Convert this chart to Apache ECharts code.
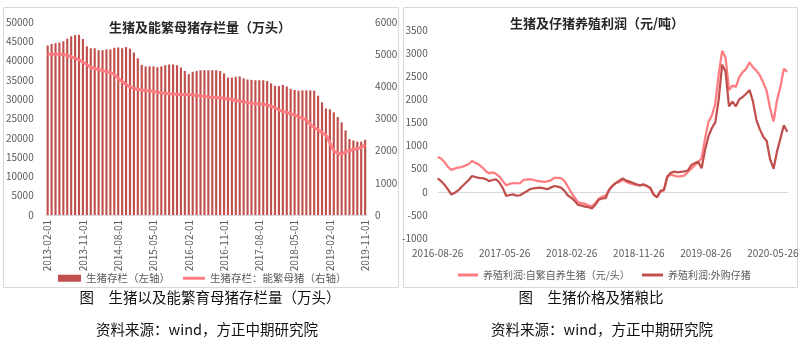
<!DOCTYPE html>
<html>
<head>
<meta charset="utf-8">
<script src="https://cdn.jsdelivr.net/npm/echarts/dist/echarts.min.js"></script>
<style>
html,body{margin:0;padding:0;background:#fff;}
#c{width:803px;height:348px;}
</style>
</head>
<body>
<div id="c"></div>
<script>
// ---------- Left chart data (monthly, 2013-02 .. 2019-11) ----------
const hogStartYear = 2013, hogStartMonth = 2, hogMonthCount = 82;
const hogMonths = [];
for (let y = hogStartYear, m = hogStartMonth; hogMonths.length < hogMonthCount;) {
  hogMonths.push(y + '-' + String(m).padStart(2, '0') + '-01');
  m++; if (m > 12) { m = 1; y++; }
}
// 生猪存栏（万头，左轴）
const hogInventory = [
  43900, 44300, 44500, 44700, 45000, 45700, 46300, 46600, 46700, 45600,
  43700, 43200, 43200, 42700, 42700, 42900, 42900, 43300, 43400, 43200,
  43500, 43100, 42100, 40600, 38900, 38500, 38500, 38500, 38300, 38500,
  38800, 39000, 39000, 38800, 38200, 37300, 36500, 37100, 37300, 37500,
  37500, 37500, 37500, 37500, 37300, 36700, 35600, 35600, 35800, 35900,
  35400, 35100, 35000, 34900, 34900, 34900, 34700, 34100, 33500, 33400,
  33700, 33300, 32700, 32400, 32200, 32300, 32300, 32300, 32200, 30900,
  29200, 27600, 27400, 26600, 25400, 24000, 21900, 19700, 19300, 19000,
  19000, 19500
];
// 生猪存栏：能繁母猪（万头，右轴）
const sowInventory = [
  5000, 5000, 5000, 5000, 4990, 4960, 4920, 4880, 4820, 4760,
  4670, 4600, 4560, 4520, 4490, 4460, 4420, 4370, 4250, 4150,
  4060, 3990, 3940, 3910, 3885, 3870, 3860, 3840, 3820, 3800,
  3780, 3770, 3760, 3755, 3750, 3750, 3745, 3730, 3720, 3710,
  3690, 3670, 3660, 3650, 3645, 3630, 3610, 3590, 3560, 3540,
  3520, 3500, 3470, 3460, 3450, 3440, 3420, 3380, 3330, 3270,
  3220, 3190, 3150, 3110, 3060, 3010, 2950, 2820, 2720, 2640,
  2560, 2480, 2250, 2000, 1920, 1900, 1960, 2000, 2040, 2070,
  2100, 2190
];

// ---------- Right chart data (every 14 days from 2016-08-26) ----------
const profitStepDays = 14;
const profitTickLabels = ['2016-08-26', '2017-05-26', '2018-02-26', '2018-11-26', '2019-08-26', '2020-05-26'];
const profitTickDays = 273.8;
const profitMaxDay = 1431;
// 养殖利润:自繁自养生猪（元/头）
const selfBreedProfit = [
  750, 720, 640, 540, 475, 500, 525, 535, 565, 595,
  665, 630, 590, 530, 450, 400, 420, 390, 330, 230,
  140, 170, 190, 180, 185, 255, 265, 275, 255, 235,
  225, 215, 225, 245, 300, 300, 295, 230, 110, -20,
  -130, -230, -245, -260, -300, -310, -250, -150, -110, -80,
  40, 130, 190, 210, 260, 220, 185, 165, 150, 140,
  150, 120, 75, -60, -110, 0, 30, 320, 370, 350,
  330, 340, 350, 430, 500, 570, 650, 720, 1150, 1510,
  1650, 1900, 2550, 3050, 2900, 2200, 2300, 2270, 2480, 2590,
  2660, 2800, 2690, 2620, 2520, 2360, 2180, 1800, 1520, 1980,
  2270, 2660, 2600
];
// 养殖利润:外购仔猪
const pigletProfit = [
  290, 230, 150, 50, -60, -20, 30, 110, 180, 250,
  340, 320, 300, 295, 275, 230, 255, 270, 200, 80,
  -90, -70, -55, -85, -75, -30, 10, 60, 75, 85,
  90, 75, 55, 90, 125, 110, 90, 20, -80, -130,
  -200, -285, -300, -320, -335, -360, -280, -170, -145, -140,
  40, 130, 190, 240, 290, 240, 220, 190, 160, 140,
  160, 130, 90, -60, -120, 20, 40, 330, 410, 435,
  420, 430, 440, 460, 580, 620, 650, 510, 900, 1200,
  1380, 1500, 2000, 2750, 2600, 1850, 1950, 1850, 2000, 2050,
  2120, 2200, 1950, 1550, 1350, 1190, 1100, 700, 500, 870,
  1150, 1440, 1300
];

const profitDays = selfBreedProfit.map((_, k) => k * profitStepDays);
const selfData = selfBreedProfit.map((v, k) => [profitDays[k], v]);
const pigletData = pigletProfit.map((v, k) => [profitDays[k], v]);

const FONT = "'Noto Sans CJK SC', 'Noto Sans', sans-serif";
const plain = v => String(v);
const LABEL = { color: '#595959', fontSize: 10, fontFamily: FONT };
const LEG_TEXT_L = { color: '#595959', fontSize: 10.5, fontFamily: FONT };
const LEG_TEXT_R = { color: '#595959', fontSize: 10, fontFamily: FONT };

const chart = echarts.init(document.getElementById('c'), null, { renderer: 'canvas', width: 803, height: 348 });

function gtext(text, x, y, font, fill) {
  return {
    type: 'text', x: x, y: y, silent: true,
    style: { text: text, font: font, fill: fill, align: 'center', verticalAlign: 'middle', textAlign: 'center', textVerticalAlign: 'middle' }
  };
}

const option = {
  animation: false,
  backgroundColor: '#ffffff',
  textStyle: { fontFamily: FONT },
  graphic: [
    { type: 'rect', silent: true, z: -10, shape: { x: 3.5, y: 7.5, width: 395, height: 280 }, style: { fill: 'none', stroke: '#D9D9D9', lineWidth: 1 } },
    { type: 'rect', silent: true, z: -10, shape: { x: 403.5, y: 7.5, width: 394, height: 280 }, style: { fill: 'none', stroke: '#D9D9D9', lineWidth: 1 } },
    gtext('生猪及能繁母猪存栏量（万头）', 200, 27, 'bold 13px ' + FONT, '#262626'),
    gtext('生猪及仔猪养殖利润（元/吨）', 597, 23, 'bold 13px ' + FONT, '#262626'),
    gtext('图\u3000生猪以及能繁育母猪存栏量（万头）', 210, 297, '14.5px ' + FONT, '#111'),
    gtext('资料来源：wind，方正中期研究院', 207, 329, '14.5px ' + FONT, '#111'),
    gtext('图\u3000生猪价格及猪粮比', 591, 297, '14.5px ' + FONT, '#111'),
    gtext('资料来源：wind，方正中期研究院', 602, 329, '14.5px ' + FONT, '#111')
  ],
  grid: [
    { left: 45.7, top: 22, width: 321.4, height: 193 },
    { left: 437.7, top: 30, width: 350.3, height: 208 }
  ],
  legend: [
    { padding: 0, left: 58, top: 273, itemWidth: 23, itemHeight: 7, itemGap: 10, selectedMode: false, textStyle: LEG_TEXT_L,
      data: [{ name: '生猪存栏（左轴）', icon: 'rect' }] },
    { padding: 0, left: 183, top: 273, itemWidth: 22, itemHeight: 3, selectedMode: false, textStyle: LEG_TEXT_L,
      data: [{ name: '生猪存栏：能繁母猪（右轴）', icon: 'rect' }] },
    { padding: 0, left: 458, top: 270, itemWidth: 20, itemHeight: 3, selectedMode: false, textStyle: LEG_TEXT_R,
      data: [{ name: '养殖利润:自繁自养生猪（元/头）', icon: 'rect' }] },
    { padding: 0, left: 642, top: 270, itemWidth: 21, itemHeight: 3, selectedMode: false, textStyle: LEG_TEXT_R,
      data: [{ name: '养殖利润:外购仔猪', icon: 'rect' }] }
  ],
  xAxis: [
    {
      type: 'category', gridIndex: 0, data: hogMonths, boundaryGap: true,
      axisTick: { show: false },
      axisLine: { lineStyle: { color: '#D9D9D9', width: 1 } },
      axisLabel: Object.assign({ interval: 8, rotate: 90, margin: 5 }, LABEL),
      splitLine: { show: false }
    },
    {
      type: 'value', gridIndex: 1, min: 0, max: profitMaxDay, interval: profitTickDays,
      axisLine: { show: false }, axisTick: { show: false }, splitLine: { show: false },
      axisLabel: Object.assign({
        margin: 10, showMaxLabel: false,
        formatter: function (v) {
          const idx = Math.round(v / profitTickDays);
          if (Math.abs(v - idx * profitTickDays) < 1 && idx < profitTickLabels.length) return profitTickLabels[idx];
          return '';
        }
      }, LABEL)
    }
  ],
  yAxis: [
    {
      type: 'value', gridIndex: 0, min: 0, max: 50000, interval: 5000,
      axisLine: { show: false }, axisTick: { show: false }, splitLine: { show: false },
      axisLabel: Object.assign({ margin: 12, formatter: plain }, LABEL)
    },
    {
      type: 'value', gridIndex: 0, position: 'right', min: 0, max: 6000, interval: 1000,
      axisLine: { show: false }, axisTick: { show: false }, splitLine: { show: false },
      axisLabel: Object.assign({ margin: 8, formatter: plain }, LABEL)
    },
    {
      type: 'value', gridIndex: 1, min: -1000, max: 3500, interval: 500,
      axisLine: { show: false }, axisTick: { show: false }, splitLine: { show: false },
      axisLabel: Object.assign({ margin: 10, formatter: plain }, LABEL)
    }
  ],
  series: [
    {
      name: '生猪存栏（左轴）', type: 'bar', xAxisIndex: 0, yAxisIndex: 0,
      data: hogInventory, barWidth: '55%',
      itemStyle: { color: '#C0504D' }
    },
    {
      name: '生猪存栏：能繁母猪（右轴）', type: 'line', xAxisIndex: 0, yAxisIndex: 1,
      data: sowInventory, symbol: 'none', smooth: 0.3,
      itemStyle: { color: '#FF7C80' },
      lineStyle: { color: '#FF7C80', width: 3 }
    },
    {
      name: '养殖利润:自繁自养生猪（元/头）', type: 'line', xAxisIndex: 1, yAxisIndex: 2,
      data: selfData, symbol: 'none',
      itemStyle: { color: '#FF7C80' },
      lineStyle: { color: '#FF7C80', width: 2.25 },
      markLine: {
        silent: true, z: 1, symbol: ['none', 'none'], label: { show: false },
        lineStyle: { color: '#D9D9D9', width: 1, type: 'solid' },
        data: [{ yAxis: 0 }]
      }
    },
    {
      name: '养殖利润:外购仔猪', type: 'line', xAxisIndex: 1, yAxisIndex: 2,
      data: pigletData, symbol: 'none',
      itemStyle: { color: '#C0504D' },
      lineStyle: { color: '#C0504D', width: 2.25 }
    }
  ]
};
chart.setOption(option);
</script>
</body>
</html>
